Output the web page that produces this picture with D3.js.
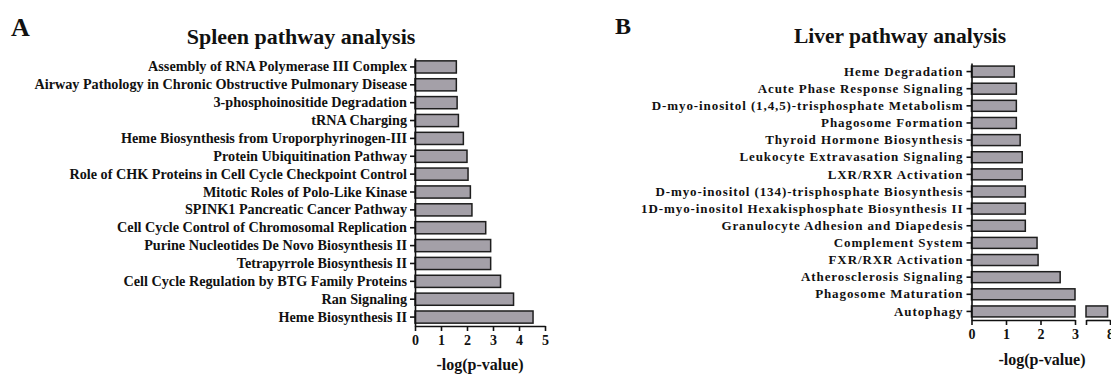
<!DOCTYPE html>
<html>
<head>
<meta charset="utf-8">
<script src="https://cdn.jsdelivr.net/npm/d3@7"></script>
<style>
  body { margin: 0; background: #fff; }
  text { font-family: "Liberation Serif", "Times New Roman", serif; font-weight: bold; fill: #111; }
  .bar { fill: #a4a0a8; stroke: #1e1e1e; stroke-width: 1.5; }
  .axis path, .axis line { stroke: #111; stroke-width: 1.6; }
  .axis text { font-size: 14px; }
  .spleen .yaxis text { font-size: 14.2px; }
  .liver .yaxis text { font-size: 13px; letter-spacing: 0.9px; }
</style>
</head>
<body>
<div id="vis"></div>
<script>
const width = 1111;
const height = 374;

// spleen data (top to bottom)
const spleenPathways = [
    "Assembly of RNA Polymerase III Complex",
    "Airway Pathology in Chronic Obstructive Pulmonary Disease",
    "3-phosphoinositide Degradation",
    "tRNA Charging",
    "Heme Biosynthesis from Uroporphyrinogen-III",
    "Protein Ubiquitination Pathway",
    "Role of CHK Proteins in Cell Cycle Checkpoint Control",
    "Mitotic Roles of Polo-Like Kinase",
    "SPINK1 Pancreatic Cancer Pathway",
    "Cell Cycle Control of Chromosomal Replication",
    "Purine Nucleotides De Novo Biosynthesis II",
    "Tetrapyrrole Biosynthesis II",
    "Cell Cycle Regulation by BTG Family Proteins",
    "Ran Signaling",
    "Heme Biosynthesis II"
];
const spleenValues = [1.59, 1.59, 1.62, 1.67, 1.86, 2.0, 2.04, 2.13, 2.19, 2.72, 2.91, 2.91, 3.29, 3.79, 4.54];
const spleenTicks = [0, 1, 2, 3, 4, 5];

// liver data (top to bottom)
const liverPathways = [
    "Heme Degradation",
    "Acute Phase Response Signaling",
    "D-myo-inositol (1,4,5)-trisphosphate Metabolism",
    "Phagosome Formation",
    "Thyroid Hormone Biosynthesis",
    "Leukocyte Extravasation Signaling",
    "LXR/RXR Activation",
    "D-myo-inositol (134)-trisphosphate Biosynthesis",
    "1D-myo-inositol Hexakisphosphate Biosynthesis II",
    "Granulocyte Adhesion and Diapedesis",
    "Complement System",
    "FXR/RXR Activation",
    "Atherosclerosis Signaling",
    "Phagosome Maturation",
    "Autophagy"
];
const liverValues = [1.24, 1.30, 1.30, 1.30, 1.41, 1.47, 1.47, 1.56, 1.56, 1.56, 1.90, 1.93, 2.57, 3.0, 7.9];
const liverTicks = [0, 1, 2, 3];
const liverBreakTicks = [7, 8];

const svg = d3.select("#vis")
    .append("svg")
        .attr("width", width)
        .attr("height", height);

// panel letters and titles
svg.append("text").attr("x", 11).attr("y", 36).style("font-size", "26px").text("A");
svg.append("text").attr("x", 615).attr("y", 34).style("font-size", "24px").text("B");
svg.append("text").attr("x", 301).attr("y", 44).attr("text-anchor", "middle")
    .style("font-size", "22px").text("Spleen pathway analysis");
svg.append("text").attr("x", 900).attr("y", 43).attr("text-anchor", "middle")
    .style("font-size", "21.5px").text("Liver pathway analysis");

//spleen chart
const spleen = svg.append("g").attr("class", "spleen");
const sx = d3.scaleLinear().domain([0, 5]).range([415, 545]);
const sy = d3.scaleBand().domain(spleenPathways).range([58, 326])
    .paddingInner(0.32).paddingOuter(0.16);

spleen.selectAll(".bar")
    .data(spleenPathways)
    .enter()
    .append("rect")
        .attr("class", "bar")
        .attr("x", sx(0))
        .attr("y", (d) => sy(d))
        .attr("width", (d, i) => sx(spleenValues[i]) - sx(0))
        .attr("height", sy.bandwidth());

spleen.append("g")
    .attr("class", "axis yaxis")
    .attr("transform", "translate(" + sx(0) + ",0)")
    .call(d3.axisLeft(sy).tickSize(5).tickSizeOuter(0).tickPadding(3));

spleen.append("g")
    .attr("class", "axis")
    .attr("transform", "translate(0," + 326 + ")")
    .call(d3.axisBottom(sx).tickValues(spleenTicks).tickFormat(d3.format("d"))
        .tickSize(5).tickSizeOuter(0).tickPadding(4));

spleen.append("text").attr("x", 480).attr("y", 370).attr("text-anchor", "middle")
    .style("font-size", "16px").text("-log(p-value)");

// liver chart with broken x axis
const liver = svg.append("g").attr("class", "liver");
const lx = d3.scaleLinear().domain([0, 3]).range([971.5, 1075]);
const lx2 = d3.scaleLinear().domain([7, 8]).range([1086, 1110]);
const ly = d3.scaleBand().domain(liverPathways).range([63, 320])
    .paddingInner(0.36).paddingOuter(0.18);

liver.selectAll(".bar")
    .data(liverPathways)
    .enter()
    .append("rect")
        .attr("class", "bar")
        .attr("x", lx(0))
        .attr("y", (d) => ly(d))
        .attr("width", (d, i) => lx(Math.min(liverValues[i], 3)) - lx(0))
        .attr("height", ly.bandwidth());

liver.selectAll(".bar2")
    .data(liverPathways.filter((d, i) => liverValues[i] > 7))
    .enter()
    .append("rect")
        .attr("class", "bar")
        .attr("x", lx2(7))
        .attr("y", (d) => ly(d))
        .attr("width", (d) => lx2(liverValues[liverPathways.indexOf(d)]) - lx2(7))
        .attr("height", ly.bandwidth());

liver.append("g")
    .attr("class", "axis yaxis")
    .attr("transform", "translate(" + lx(0) + ",0)")
    .call(d3.axisLeft(ly).tickSize(5).tickSizeOuter(0).tickPadding(3));

liver.append("g")
    .attr("class", "axis")
    .attr("transform", "translate(0," + 320 + ")")
    .call(d3.axisBottom(lx).tickValues(liverTicks).tickFormat(d3.format("d"))
        .tickSize(5).tickSizeOuter(0).tickPadding(4));

liver.append("g")
    .attr("class", "axis")
    .attr("transform", "translate(0," + 320 + ")")
    .call(d3.axisBottom(lx2).tickValues(liverBreakTicks).tickSize(5).tickSizeOuter(0).tickPadding(4)
        .tickFormat((d) => d === 8 ? "8" : ""));

liver.append("text").attr("x", 1042).attr("y", 365).attr("text-anchor", "middle")
    .style("font-size", "16px").text("-log(p-value)");
</script>
</body>
</html>
